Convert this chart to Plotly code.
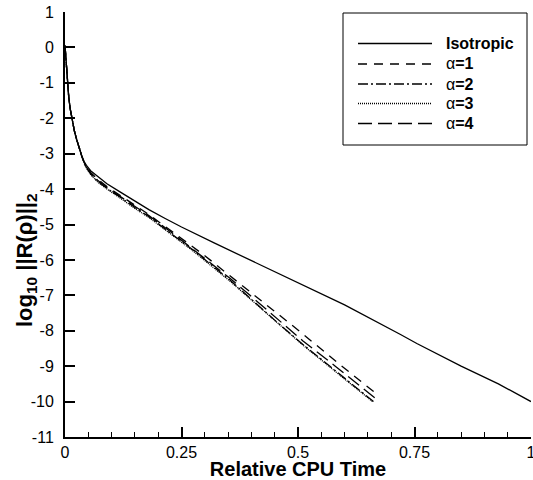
import plotly.graph_objects as go

# Isotropic
iso_x = [0.0, 0.002, 0.0036, 0.006, 0.008, 0.011, 0.0143, 0.02, 0.025, 0.031, 0.036, 0.041, 0.046, 0.055, 0.07, 0.09, 0.118, 0.15, 0.18, 0.215, 0.25, 0.32, 0.397, 0.45, 0.504, 0.6, 0.719, 0.755, 0.85, 0.93, 1.0]
iso_y = [0.05, -0.4, -0.72, -1.1, -1.4, -1.72, -2.0, -2.35, -2.6, -2.88, -3.06, -3.22, -3.33, -3.48, -3.65, -3.85, -4.08, -4.34, -4.58, -4.83, -5.07, -5.52, -6.0, -6.33, -6.66, -7.27, -8.1, -8.36, -9.0, -9.5, -10.0]

# alpha = 1
a1_x = [0.0, 0.002, 0.0036, 0.006, 0.008, 0.011, 0.0143, 0.02, 0.025, 0.031, 0.036, 0.041, 0.046, 0.055, 0.07, 0.09, 0.118, 0.15, 0.18, 0.236, 0.3, 0.354, 0.397, 0.45, 0.504, 0.58, 0.62, 0.672]
a1_y = [0.05, -0.4, -0.72, -1.1, -1.4, -1.72, -2.0, -2.35, -2.6, -2.88, -3.07, -3.24, -3.37, -3.53, -3.72, -3.93, -4.17, -4.46, -4.72, -5.26, -5.88, -6.45, -6.9, -7.45, -8.02, -8.85, -9.28, -9.82]

# alpha = 2
a2_x = [0.0, 0.002, 0.0036, 0.006, 0.008, 0.011, 0.0143, 0.02, 0.025, 0.031, 0.036, 0.041, 0.046, 0.055, 0.07, 0.09, 0.118, 0.15, 0.18, 0.236, 0.275, 0.354, 0.397, 0.45, 0.51, 0.58, 0.662]
a2_y = [0.05, -0.4, -0.72, -1.1, -1.4, -1.72, -2.0, -2.35, -2.6, -2.88, -3.08, -3.26, -3.4, -3.57, -3.78, -3.98, -4.22, -4.52, -4.78, -5.34, -5.72, -6.57, -7.08, -7.7, -8.38, -9.12, -10.0]

# alpha = 3
a3_x = [0.0, 0.002, 0.0036, 0.006, 0.008, 0.011, 0.0143, 0.02, 0.025, 0.031, 0.036, 0.041, 0.046, 0.055, 0.07, 0.09, 0.118, 0.15, 0.18, 0.236, 0.275, 0.354, 0.397, 0.45, 0.51, 0.58, 0.66]
a3_y = [0.05, -0.4, -0.72, -1.1, -1.4, -1.72, -2.0, -2.35, -2.6, -2.88, -3.08, -3.27, -3.41, -3.59, -3.8, -4.0, -4.25, -4.55, -4.8, -5.37, -5.75, -6.6, -7.1, -7.72, -8.4, -9.15, -10.0]

# alpha = 4
a4_x = [0.0, 0.002, 0.0036, 0.006, 0.008, 0.011, 0.0143, 0.02, 0.025, 0.031, 0.036, 0.041, 0.046, 0.055, 0.07, 0.09, 0.118, 0.15, 0.18, 0.236, 0.3, 0.354, 0.397, 0.45, 0.51, 0.58, 0.667]
a4_y = [0.05, -0.4, -0.72, -1.1, -1.4, -1.72, -2.0, -2.35, -2.6, -2.88, -3.07, -3.25, -3.39, -3.55, -3.75, -3.96, -4.2, -4.49, -4.75, -5.3, -5.95, -6.52, -7.0, -7.6, -8.28, -9.0, -9.92]

names = ["<b>Isotropic</b>", "α<b>=1</b>", "α<b>=2</b>", "α<b>=3</b>", "α<b>=4</b>"]
dashes = ["solid", "9px,7px", "10px,3px,2px,3px", "1px,1px", "14px,6px"]
xs = [iso_x, a1_x, a2_x, a3_x, a4_x]
ys = [iso_y, a1_y, a2_y, a3_y, a4_y]

x_ticks = [0, 0.25, 0.5, 0.75, 1]
x_ticklabels = ["0", "0.25", "0.5", "0.75", "1"]
y_ticks = list(range(-11, 2))
y_ticklabels = [str(v) for v in y_ticks]

FONT = "Liberation Sans, Arial, Helvetica, sans-serif"

# plot area geometry (pixels) used to place the hand-drawn legend in paper coords
W, H = 533, 480
ML, MR, MT, MB = 65, 2, 12, 43
PW, PH = W - ML - MR, H - MT - MB


def px(xp):
    return (xp - ML) / PW


def py(yp):
    return (H - MB - yp) / PH


fig = go.Figure()
for x, y, n, d in zip(xs, ys, names, dashes):
    fig.add_trace(go.Scatter(x=x, y=y, mode="lines", name=n,
                             line=dict(color="black", width=1.3, dash=d),
                             showlegend=False))

shapes = [dict(type="rect", xref="paper", yref="paper",
               x0=px(343), x1=px(527), y0=py(145), y1=py(13),
               line=dict(color="black", width=1), fillcolor="white", layer="above")]
annotations = []
row_y = [43.5, 64, 84, 103.5, 123.5]
for n, d, ry in zip(names, dashes, row_y):
    shapes.append(dict(type="line", xref="paper", yref="paper",
                       x0=px(358), x1=px(432), y0=py(ry), y1=py(ry),
                       line=dict(color="black", width=1.3, dash=d), layer="above"))
    annotations.append(dict(text=n, xref="paper", yref="paper", x=px(444), y=py(ry),
                            xanchor="left", yanchor="middle", showarrow=False,
                            font=dict(size=16, family=FONT, color="black")))

# y-axis title (placed as in the reference, slightly below the plot centre)
annotations.append(dict(text="<b>log<sub>10</sub> ||R(ρ)||<sub>2</sub></b>",
                        xref="paper", yref="paper", x=px(26), y=py(260),
                        xanchor="center", yanchor="middle", textangle=-90,
                        showarrow=False, font=dict(size=22, family=FONT, color="black")))

fig.update_layout(
    width=W, height=H,
    margin=dict(l=ML, r=MR, t=MT, b=MB),
    paper_bgcolor="white", plot_bgcolor="white",
    font=dict(family=FONT, color="black", size=16),
    showlegend=False,
    shapes=shapes, annotations=annotations,
    xaxis=dict(range=[0, 1], tickvals=x_ticks, ticktext=x_ticklabels,
               ticks="inside", ticklen=10, tickwidth=2, tickcolor="black",
               showline=True, linecolor="black", linewidth=2,
               showgrid=False, zeroline=False, ticklabelstandoff=0,
               ticklabeloverflow="allow", automargin=False,
               minor=dict(dtick=0.05, ticks="inside", ticklen=5, tickwidth=1, tickcolor="black", showgrid=False),
               title=dict(text="<b>Relative CPU Time</b>", font=dict(size=20), standoff=0)),
    yaxis=dict(range=[-11, 1], tickvals=y_ticks, ticktext=y_ticklabels,
               ticks="inside", ticklen=10, tickwidth=2, tickcolor="black",
               showline=True, linecolor="black", linewidth=2,
               showgrid=False, zeroline=False, ticklabelstandoff=6,
               ticklabeloverflow="allow", automargin=False),
)

fig.write_html("out.html")
